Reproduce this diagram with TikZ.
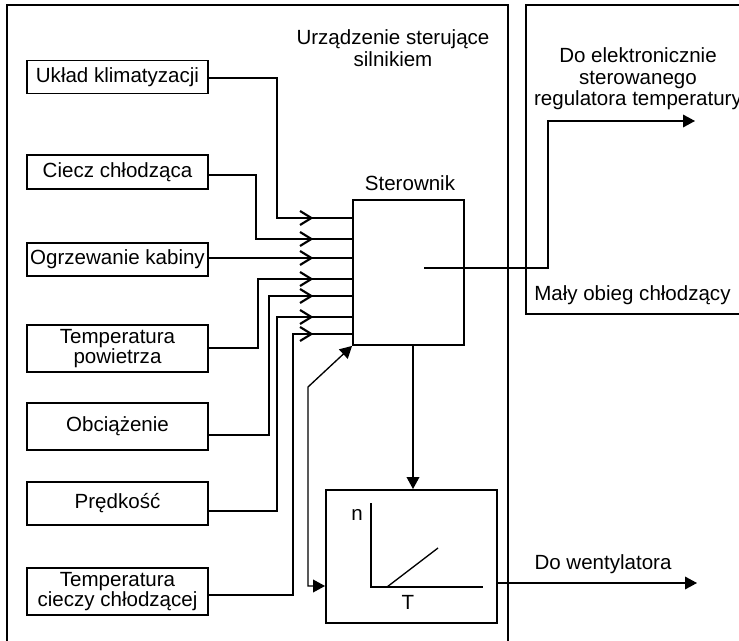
\documentclass[tikz,border=0pt]{standalone}
\usepackage{fontspec}
\setmainfont{Liberation Sans}
\usetikzlibrary{arrows.meta,decorations.markings}
\lineskiplimit=-20pt
\begin{document}
\begin{tikzpicture}[x=0.75pt,y=-0.75pt,
  box/.style={draw,line width=1.4pt,inner sep=0pt,minimum width=135.75pt,align=center,font=\fontsize{15.4}{14.5}\selectfont},
  frame/.style={draw,line width=1.4pt,inner sep=0pt},
  conn/.style={line width=1pt},
  chev/.style={postaction={decorate},decoration={markings,mark=at position -29pt with {\arrow{Straight Barb[length=8.5pt,width=10.5pt,line width=1.6pt]}}}},
  tri/.style={-{Triangle[length=9pt,width=9.5pt]}},
  lbl/.style={font=\fontsize{15.4}{16}\selectfont,align=center,inner sep=0pt}
]
\useasboundingbox (0,0) rectangle (739,641);
\clip (0,0) rectangle (739,641);

% outer frames
\draw[line width=1.4pt] (7,660) -- (7,5) -- (508,5) -- (508,660);
\draw[line width=1.4pt] (760,5) -- (526,5) -- (526,314) -- (760,314);

% input boxes
\node[box,minimum height=24.75pt] (uk) at (117.5,77) {Układ klimatyzacji};
\node[box,minimum height=25.5pt] (ci) at (117.5,172) {Ciecz chłodząca};
\node[box,minimum height=24.75pt] (og) at (117.5,259.5) {Ogrzewanie kabiny};
\node[box,minimum height=35.25pt] (tp) at (117.5,348.5) {Temperatura\\powietrza};
\node[box,minimum height=35.25pt] (ob) at (117.5,426.5) {Obciążenie};
\node[box,minimum height=32.25pt] (pr) at (117.5,503.5) {Prędkość};
\node[box,minimum height=35.25pt] (tc) at (117.5,591.5) {Temperatura\\cieczy chłodzącej};

% controller
\node[frame,minimum width=83.25pt,minimum height=108.75pt] (S) at (408.5,272.5) {};
\node[lbl] (sl) at (410,183) {Sterownik};

% characteristic box
\node[frame,minimum width=128.25pt,minimum height=99.75pt] (G) at (411.5,556.5) {};
\draw[line width=1.4pt] (371,503) -- (371,587) -- (483,587);
\draw[conn] (387,587) -- (438,548);
\node[lbl] (nl) at (357,515) {n};
\node[lbl] (tl) at (408,602) {T};

% inputs to controller
\draw[conn,chev] (uk.east |- 0,78) -| (277,218) -- (S.west |- 0,218);
\draw[conn,chev] (ci.east |- 0,175) -| (256,239) -- (S.west |- 0,239);
\draw[conn,chev] (og.east |- 0,258) -- (S.west |- 0,258);
\draw[conn,chev] (tp.east |- 0,348) -| (258,279) -- (S.west |- 0,279);
\draw[conn,chev] (ob.east |- 0,435) -| (269,296) -- (S.west |- 0,296);
\draw[conn,chev] (pr.east |- 0,511) -| (277,317) -- (S.west |- 0,317);
\draw[conn,chev] (tc.east |- 0,595) -| (293,334) -- (S.west |- 0,334);

% controller to characteristic
\draw[conn,tri] (S.south -| 413,0) -- (G.north -| 413,0);
\draw[conn,{Triangle[length=9pt,width=9.5pt]}-{Triangle[length=9pt,width=9.5pt]}] (S.south west) -- (308,387) |- (G.west |- 0,586);

% outputs
\coordinate (sIn) at (424,268);
\coordinate (regEnd) at (695,121);
\draw[conn,tri] (sIn) -| (548,121) -- (regEnd);
\coordinate (wEnd) at (697,583);
\draw[conn,tri] (G.east |- 0,583) -- (wEnd);

% labels
\node[lbl] (t1) at (393,48) {Urządzenie sterujące\\silnikiem};
\node[lbl] (t2) at (638,79) {Do elektronicznie\\sterowanego\\regulatora temperatury};
\node[lbl,anchor=west] (t3) at (534,295) {Mały obieg chłodzący};
\node[lbl] (t4) at (603,564) {Do wentylatora};
\end{tikzpicture}
\end{document}
